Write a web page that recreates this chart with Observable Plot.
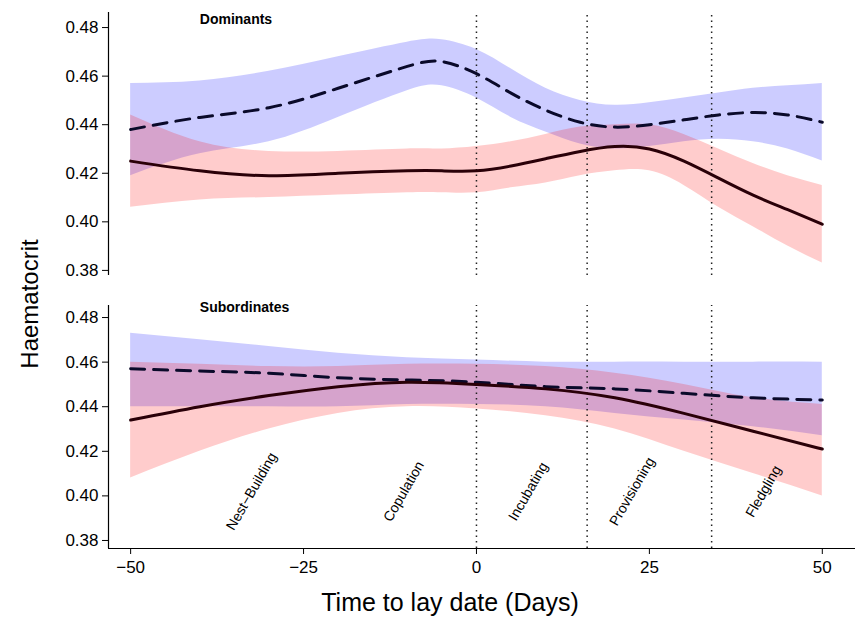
<!DOCTYPE html>
<html><head><meta charset="utf-8">
<script src="https://cdn.jsdelivr.net/npm/d3@7"></script>
<script src="https://cdn.jsdelivr.net/npm/@observablehq/plot@0.6"></script>
<style>body{margin:0;background:#fff;font-family:"Liberation Sans",Arial,sans-serif}svg{display:block}</style>
</head><body><div id="c"></div>
<script>
const panels = ["Dominants","Subordinates"];
// Dominants
const dX = [-50,-40,-30,-20,-10,-5,0,5,10,15,20,25,30,35,40,45,50];
const dDash = [0.438,0.443,0.447,0.455,0.464,0.466,0.461,0.453,0.446,0.441,0.439,0.440,0.442,0.444,0.445,0.444,0.441];
const dDashHi = [0.457,0.458,0.462,0.468,0.474,0.475,0.471,0.463,0.455,0.450,0.448,0.449,0.451,0.453,0.455,0.456,0.457];
const dDashLo = [0.419,0.428,0.433,0.443,0.454,0.456,0.451,0.443,0.437,0.432,0.430,0.431,0.433,0.434,0.433,0.430,0.425];
const dSolid = [0.425,0.421,0.419,0.420,0.421,0.421,0.421,0.423,0.426,0.429,0.431,0.430,0.425,0.418,0.411,0.405,0.399];
const dSolidHi = [0.444,0.433,0.429,0.429,0.430,0.430,0.431,0.433,0.436,0.439,0.440,0.440,0.436,0.430,0.424,0.419,0.415];
const dSolidLo = [0.406,0.409,0.410,0.411,0.412,0.412,0.412,0.414,0.416,0.419,0.421,0.421,0.415,0.406,0.398,0.390,0.383];
// Subordinates
const sX = [-50,-40,-30,-20,-10,0,10,20,30,40,50];
const sDash = [0.457,0.456,0.455,0.453,0.452,0.451,0.449,0.448,0.446,0.444,0.443];
const sDashHi = [0.473,0.470,0.467,0.464,0.462,0.461,0.460,0.460,0.460,0.460,0.460];
const sDashLo = [0.440,0.440,0.440,0.440,0.441,0.441,0.440,0.437,0.434,0.431,0.427];
const sSolid = [0.434,0.440,0.445,0.449,0.451,0.450,0.448,0.444,0.437,0.429,0.421];
const sSolidHi = [0.460,0.459,0.458,0.458,0.459,0.459,0.458,0.455,0.450,0.444,0.441];
const sSolidLo = [0.408,0.420,0.430,0.437,0.440,0.439,0.436,0.430,0.420,0.410,0.400];
const phaseBreaks = [0,16,34];
const phases = ["Nest\u2212Building","Copulation","Incubating","Provisioning","Fledgling"];
const phaseX = [-32.5,-10.5,7.5,22.5,41.5];
const yTicks = [0.38,0.40,0.42,0.44,0.46,0.48];
const xTicks = [-50,-25,0,25,50];

function rows(xs, m, lo, hi){ return xs.map((x,i)=>({x,m:m[i],lo:lo[i],hi:hi[i]})); }
const x0 = -53.2, x1 = 54.8;

function panel(title, dash, solid, opts){
  const [ylo, yhi] = opts.ydom;
  const marks = [
    Plot.areaY(dash, {x:"x", y1:"lo", y2:"hi", fill:"rgb(0,0,255)", fillOpacity:0.2, curve:"natural"}),
    Plot.areaY(solid, {x:"x", y1:"lo", y2:"hi", fill:"rgb(255,0,0)", fillOpacity:0.2, curve:"natural"}),
    Plot.ruleX(phaseBreaks, {y1:ylo, y2:yhi, stroke:"#222", strokeWidth:1.5, strokeDasharray:"1.5,4"}),
    Plot.line(dash, {x:"x", y:"m", stroke:"#0a0a2a", strokeWidth:3, strokeDasharray:"14,9", curve:"natural"}),
    Plot.line(solid, {x:"x", y:"m", stroke:"#2a0008", strokeWidth:3, curve:"natural"}),
    Plot.ruleX([x0], {y1:ylo, y2:yhi, stroke:"#000", strokeWidth:1.2}),
    Plot.text([title], {x:-40, y:opts.titleY, text:d=>d, fontWeight:"bold", fontSize:14, textAnchor:"start"}),
    Plot.axisY({ticks:yTicks, tickFormat:".2f", tickSize:6, tickPadding:4, label:null, fontSize:17}),
  ];
  if (opts.bottom) {
    marks.push(Plot.ruleY([ylo], {x1:x0, x2:x1, stroke:"#000", strokeWidth:1.2}));
    marks.push(Plot.text(phases.map((t,i)=>({t,x:phaseX[i]})), {x:"x", y:0.402, text:"t", rotate:-60, fontSize:14}));
    marks.push(Plot.axisX({ticks:xTicks, tickFormat:d=>d<0?"\u2212"+(-d):String(d), tickSize:6, tickPadding:6, label:null, fontSize:17}));
  } else {
    marks.push(Plot.axisX({ticks:[], label:null}));
  }
  return Plot.plot({
    width: 857, height: opts.height,
    marginLeft: 108, marginRight: 2, marginTop: opts.mt, marginBottom: opts.mb,
    style: {fontFamily:"Liberation Sans, Arial, sans-serif", fontSize:"17px", background:"#fff", overflow:"visible"},
    x: {domain:[x0,x1]},
    y: {domain:[ylo,yhi]},
    marks
  });
}
const topPanel = panel("Dominants", rows(dX,dDash,dDashLo,dDashHi), rows(dX,dSolid,dSolidLo,dSolidHi),
  {ydom:[0.3779,0.4862], height:285, mt:12, mb:10, titleY:0.4835});
const botPanel = panel("Subordinates", rows(sX,sDash,sDashLo,sDashHi), rows(sX,sSolid,sSolidLo,sSolidHi),
  {ydom:[0.3764,0.4854], height:332, mt:20, mb:69, titleY:0.4845, bottom:true});

const wrap = document.createElement("div");
wrap.style.cssText="position:relative;width:857px;height:617px";
wrap.appendChild(topPanel); wrap.appendChild(botPanel);
const yl=document.createElement("div");
yl.textContent="Haematocrit";
yl.style.cssText="position:absolute;left:-40px;top:290px;font-size:24px;transform:rotate(-90deg);width:140px;text-align:center";
const xl=document.createElement("div");
xl.textContent="Time to lay date (Days)";
xl.style.cssText="position:absolute;left:70px;width:760px;top:588px;font-size:25px;text-align:center";
wrap.appendChild(yl);wrap.appendChild(xl);
document.getElementById("c").appendChild(wrap);
</script></body></html>
